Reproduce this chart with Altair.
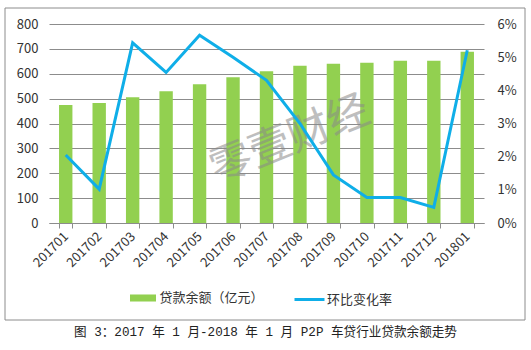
import altair as alt
import pandas as pd

months = ["201701", "201702", "201703", "201704", "201705", "201706", "201707",
          "201708", "201709", "201710", "201711", "201712", "201801"]
loans = [474, 482, 506, 530, 558, 586, 610, 632, 640, 644, 652, 652, 688]
rates_pct = [2.05, 1.02, 5.43, 4.54, 5.66, 5.0, 4.3, 3.0, 1.45, 0.77, 0.77, 0.47, 5.21]
left_ticks = [0, 100, 200, 300, 400, 500, 600, 700, 800]
right_ticks = [0, 0.01, 0.02, 0.03, 0.04, 0.05, 0.06]
series_bar = "贷款余额（亿元）"
series_line = "环比变化率"
caption = "图 3：2017 年 1 月-2018 年 1 月 P2P 车贷行业贷款余额走势"
watermark = "零壹财经"

BAR_COLOR = "#92D050"
LINE_COLOR = "#0FAEE8"
GRID = "#8C8C8C"
FONT = "Noto Sans CJK SC"

df = pd.DataFrame({
    "month": months,
    "loan": loans,
    "rate": [r / 100 for r in rates_pct],
    "bar_s": [series_bar] * len(months),
    "line_s": [series_line] * len(months),
})
one = pd.DataFrame({"cap": [caption], "wm": [watermark]})

x_enc = alt.X(
    "month:N", sort=months,
    scale=alt.Scale(paddingInner=0.6, paddingOuter=0.3),
    axis=alt.Axis(title=None, labelAngle=-45, labelAlign="right", labelBaseline="middle",
                  tickBand="extent", tickSize=5, labelPadding=6, domainColor=GRID,
                  tickColor=GRID, grid=False),
)

border = alt.Chart(one).mark_rect(fill=None, stroke="#8C8C8C", strokeWidth=1).encode(
    x=alt.value(-44), x2=alt.value(476), y=alt.value(-16), y2=alt.value(296)
)

bars = alt.Chart(df).mark_bar().encode(
    x=x_enc,
    y=alt.Y("loan:Q", scale=alt.Scale(domain=[0, 800], nice=False),
            axis=alt.Axis(title=None, values=left_ticks, grid=True, gridColor=GRID,
                          domain=False, ticks=False, labelPadding=11)),
    color=alt.Color("bar_s:N", scale=alt.Scale(domain=[series_bar], range=[BAR_COLOR]),
                    legend=alt.Legend(title=None, orient="none", legendX=87.5, legendY=267.5,
                                      symbolType="M-2,-0.54H2V0.54H-2Z", symbolSize=169,
                                      symbolStrokeWidth=0, labelOffset=10, padding=0,
                                      labelFont=FONT, labelFontSize=13, labelColor="#333333")),
)

wm = alt.Chart(one).mark_text(
    font=FONT, fontSize=42, angle=338, color="#8A8A8A", opacity=0.55,
    align="center", baseline="middle"
).encode(text="wm:N", x=alt.value(241), y=alt.value(116))

line = alt.Chart(df).mark_line(strokeWidth=3).encode(
    x=x_enc,
    y=alt.Y("rate:Q", scale=alt.Scale(domain=[0, 0.06], nice=False),
            axis=alt.Axis(title=None, orient="right", format=".0%", values=right_ticks,
                          grid=False, domain=False, ticks=False, labelPadding=13)),
    stroke=alt.Stroke("line_s:N", scale=alt.Scale(domain=[series_line], range=[LINE_COLOR]),
                      legend=alt.Legend(title=None, orient="none", legendX=244, legendY=259,
                                        symbolType="stroke", symbolSize=900,
                                        symbolStrokeWidth=3, labelOffset=1, padding=0,
                                        labelFont=FONT, labelFontSize=13, labelColor="#333333")),
)

cap = alt.Chart(one).mark_text(
    font="Liberation Mono, Noto Sans CJK SC", fontSize=12.6, color="#222222",
    align="center", baseline="middle"
).encode(text="cap:N", x=alt.value(216.5), y=alt.value(308))

chart = alt.layer(border, bars, wm, line, cap).resolve_scale(
    y="independent"
).properties(
    width=435, height=199,
    padding={"left": 49, "top": 24, "right": 47, "bottom": 127},
    autosize=alt.AutoSizeParams(type="none"),
    background="white",
).configure_view(stroke=None).configure_axis(
    labelFont=FONT, labelFontSize=13, labelColor="#333333"
)

chart.save("out.html", embed_options={"renderer": "svg", "actions": False})
